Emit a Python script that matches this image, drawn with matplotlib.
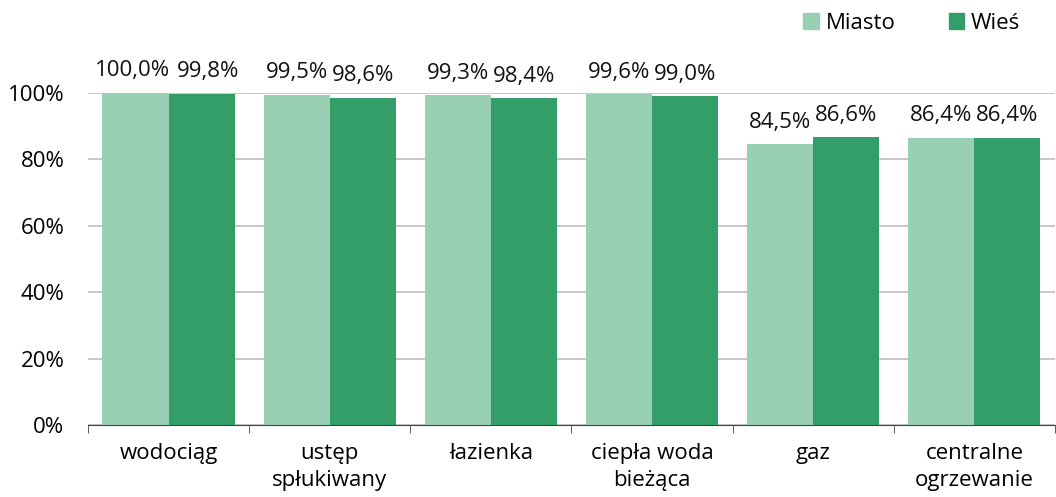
import numpy as np
import matplotlib.pyplot as plt
from matplotlib.patches import Patch

categories = ['wodociąg', 'ustęp\nspłukiwany', 'łazienka', 'ciepła woda\nbieżąca', 'gaz', 'centralne\nogrzewanie']
miasto = [100.0, 99.5, 99.3, 99.6, 84.5, 86.4]
wies = [99.8, 98.6, 98.4, 99.0, 86.6, 86.4]
yticks = [0, 20, 40, 60, 80, 100]

LIGHT = '#99cfb3'
DARK = '#339e68'
FS = 16

plt.rcParams['font.family'] = ['Open Sans', 'DejaVu Sans']

fig = plt.figure(figsize=(10.56, 4.97), dpi=100)
ax = fig.add_axes([0.0833, 0.1449, 0.9157, 0.668])

x = np.arange(len(categories))
w = 0.41
b1 = ax.bar(x - w/2, miasto, w, color=LIGHT)
b2 = ax.bar(x + w/2, wies, w, color=DARK)

def fmt(v):
    return f'{v:.1f}%'.replace('.', ',')

# labels of the first group are pushed apart a little, as in the original
nudge = {(0, 0): -2, (1, 0): 5}

for k, (bars, vals) in enumerate(((b1, miasto), (b2, wies))):
    for i, (r, v) in enumerate(zip(bars, vals)):
        ax.annotate(fmt(v), (r.get_x() + r.get_width()/2, v),
                    xytext=(nudge.get((k, i), 0), 12), textcoords='offset points',
                    ha='center', va='baseline', fontsize=FS, color='#111111')

ax.set_xlim(-0.5, len(categories) - 0.5)
ax.set_ylim(0, 100)
ax.set_yticks(yticks)
ax.set_yticklabels([f'{t}%' for t in yticks], fontsize=FS)
ax.yaxis.grid(True, color='#bdbdbd', linewidth=1.2)
ax.set_axisbelow(True)
ax.tick_params(axis='y', length=0, pad=17)

ax.set_xticks(x)
ax.set_xticklabels(categories, fontsize=FS, linespacing=1.4)
ax.set_xticks(np.arange(-0.5, len(categories)), minor=True)
ax.tick_params(axis='x', which='major', length=0, pad=13)
ax.tick_params(axis='x', which='minor', length=6, color='#444444', direction='out')

for s in ('top', 'right', 'left'):
    ax.spines[s].set_visible(False)
ax.spines['bottom'].set_color('#444444')

handles = [Patch(color=LIGHT, label='Miasto'), Patch(color=DARK, label='Wieś')]
fig.legend(handles=handles, loc='upper right', bbox_to_anchor=(0.985, 1.015), ncol=2,
           frameon=False, fontsize=FS, handlelength=0.7, handleheight=0.7,
           handletextpad=0.3, columnspacing=2.4)

fig.savefig('out.png', dpi=100)
